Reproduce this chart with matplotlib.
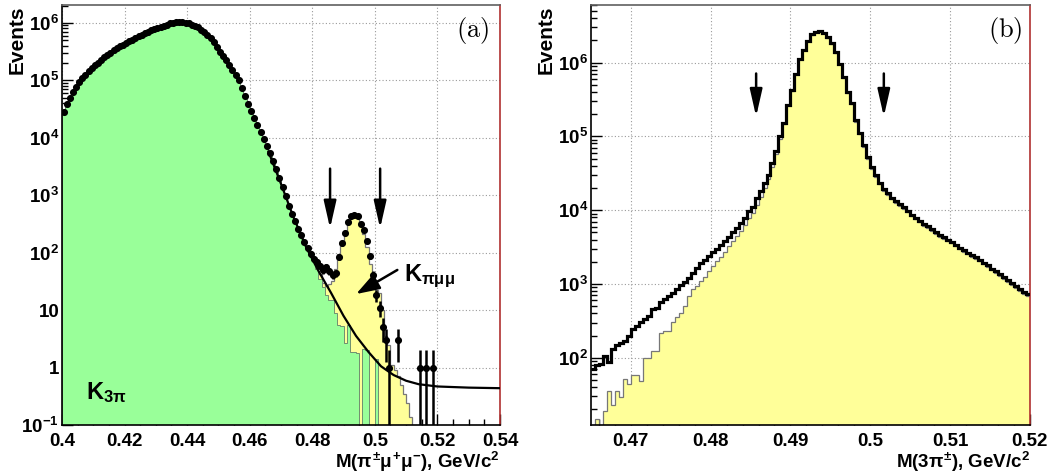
import numpy as np
import matplotlib
matplotlib.use("Agg")
import matplotlib.pyplot as plt
from matplotlib.ticker import FixedLocator, LogLocator, MultipleLocator, NullFormatter

plt.rcParams['font.family'] = ['Liberation Sans', 'DejaVu Sans']
plt.rcParams['font.weight'] = 'bold'
plt.rcParams['mathtext.fontset'] = 'custom'
plt.rcParams['mathtext.rm'] = 'Liberation Sans:bold'
plt.rcParams['mathtext.it'] = 'Liberation Sans:bold'
plt.rcParams['mathtext.bf'] = 'Liberation Sans:bold'
plt.rcParams['mathtext.sf'] = 'Liberation Sans:bold'

# ---------------- panel (a): M(pi mu mu), 1 MeV bins from 0.400 ----------------
a_edges = np.round(np.arange(0.400, 0.5405, 0.001), 4)

# data (events per bin), bins 0..118
a_data = [28200, 38000, 50100, 63100, 77600, 93300, 110000, 126000, 145000, 162000,
          182000, 204000, 229000, 251000, 275000, 302000, 331000, 363000, 389000, 417000,
          447000, 479000, 513000, 550000, 589000, 617000, 661000, 692000, 741000, 776000,
          813000, 851000, 891000, 933000, 977000, 1000000, 1020000, 1020000, 1020000, 1000000,
          977000, 933000, 891000, 832000, 759000, 692000, 617000, 537000, 457000, 380000,
          316000, 269000, 224000, 186000, 151000, 123000, 100000, 74100, 53700, 38900,
          28800, 21900, 16600, 12600, 9550, 7240, 5500, 3980, 2820, 2000,
          1380, 977, 661, 479, 355, 263, 200, 155, 120, 95,
          79, 69, 59, 50, 56, 48, 41, 44, 85, 145,
          219, 347, 427, 457, 427, 316, 245, 162, 87, 41,
          18, 11, 5, 3, 1, 0, 0, 3, 0, 0,
          0, 0, 0, 0, 1, 0, 1, 0, 1]

# K3pi simulation (green), bins 0..104
a_k3pi = a_data[:80] + [71, 52, 35, 25, 18, 15, 15, 9, 5.6, 5.2,
                        2.7, 5.6, 1.9, 1.9, 1.8, 0, 2.1, 2.0, 0, 0,
                        1.4, 0, 0, 0, 0]

# K3pi + Kpimumu simulation (yellow), bins 80..111
a_total_start = 80
a_total = [72, 60, 42, 30, 26, 28, 32, 52, 95, 151,
           240, 331, 398, 427, 398, 316, 209, 126, 63, 30,
           22, 19.5, 10, 3.5, 2.5, 1.1, 0.89, 0.71, 0.50, 0.35,
           0.24, 0.14]

# fit curve
fit_x = [0.466, 0.468, 0.470, 0.474, 0.478, 0.482, 0.486, 0.490, 0.494, 0.498,
         0.502, 0.506, 0.510, 0.514, 0.520, 0.530, 0.540]
fit_y = [5750, 3020, 1585, 417, 126, 47.9, 20.0, 7.94, 3.55, 1.86,
         1.05, 0.741, 0.589, 0.513, 0.468, 0.447, 0.437]

# ---------------- panel (b): M(3pi), 0.5 MeV bins from 0.465 ----------------
b_edges = np.round(np.linspace(0.465, 0.520, 111), 5)

b_data = [71, 81, 83, 107, 87, 132, 151, 158, 170, 200,
          245, 269, 302, 339, 363, 457, 479, 562, 617, 692,
          759, 851, 955, 1050, 1200, 1410, 1660, 1900, 2140, 2400,
          2690, 3020, 3390, 3800, 4370, 5010, 5750, 6760, 7940, 9770,
          11200, 14800, 18200, 23400, 30200, 43700, 63100, 100000, 151000, 269000,
          427000, 708000, 1120000, 1480000, 1950000, 2400000, 2630000, 2690000, 2510000, 2190000,
          1820000, 1380000, 955000, 631000, 398000, 282000, 166000, 112000, 75900, 52500,
          38000, 29500, 23400, 19100, 17000, 14800, 13200, 12000, 11000, 9770,
          8710, 7940, 7240, 6460, 6030, 5500, 5010, 4570, 4270, 3980,
          3720, 3390, 3090, 2880, 2630, 2450, 2290, 2140, 1950, 1780,
          1620, 1480, 1350, 1230, 1120, 1020, 933, 851, 776, 724]

b_mc = [10, 15, 11, 19, 35, 23, 35, 29, 52, 44,
        58, 58, 49, 98, 98, 123, 123, 219, 229, 229,
        302, 355, 407, 501, 692, 851, 933, 1100, 1260, 1480,
        1740, 2040, 2340, 2750, 3240, 3800, 4470, 5250, 6310, 7760,
        9120, 11700, 15100, 20000, 26300, 38000, 57500, 93300, 145000, 263000,
        417000, 692000, 1100000, 1460000, 1930000, 2370000, 2600000, 2660000, 2480000, 2160000,
        1800000, 1360000, 944000, 617000, 389000, 275000, 158000, 107000, 72400, 50100,
        36300, 28200, 22400, 18200, 16200, 14100, 12600, 11500, 10500, 9330,
        8320, 7590, 6920, 6170, 5750, 5250, 4790, 4370, 4070, 3800,
        3550, 3240, 2950, 2750, 2510, 2340, 2190, 2040, 1860, 1700,
        1550, 1410, 1290, 1170, 1070, 977, 891, 813, 741, 692]

cut_lo, cut_hi = 0.4857, 0.5017

GREEN = '#99ff99'
YELLOW = '#ffff99'
BASE = 1e-3

fig = plt.figure(figsize=(10.59, 4.75), dpi=100)
axa = fig.add_axes([0.0585, 0.1053, 0.4136, 0.884])
axb = fig.add_axes([0.558, 0.1053, 0.4145, 0.884])

ARROW = dict(arrowstyle='-|>,head_length=0.75,head_width=0.17', color='k',
             lw=1.8, mutation_scale=22, shrinkA=0, shrinkB=0)


def style(ax):
    ax.set_yscale('log')
    ax.set_axisbelow(True)
    ax.grid(True, which='major', color='#9a9a9a', linestyle=(0, (1, 2)), linewidth=0.8)
    ax.tick_params(which='both', direction='in', top=False, right=False,
                   labelsize=13.5)
    ax.tick_params(which='major', length=8, width=1)
    ax.tick_params(which='minor', length=4, width=1)
    ax.tick_params(axis='x', pad=6)
    ax.tick_params(axis='y', pad=2)
    for s in ['left', 'bottom', 'top']:
        ax.spines[s].set_linewidth(1.2)
    ax.spines['right'].set_color('#b03030')
    ax.spines['right'].set_linewidth(1.2)
    ax.spines['top'].set_color('#606060')


# ---- panel (a) ----
ax = axa
style(ax)
tot = np.full(len(a_edges) - 1, BASE)
tot[a_total_start:a_total_start + len(a_total)] = a_total
ax.stairs(tot, a_edges, baseline=BASE, fill=True, color=YELLOW, zorder=1)
ax.stairs(tot, a_edges, baseline=BASE, color='#777777', lw=0.9, zorder=1.1)
k3 = np.full(len(a_edges) - 1, BASE)
k3[:len(a_k3pi)] = np.where(np.array(a_k3pi) > 0, a_k3pi, BASE)
ax.stairs(k3, a_edges, baseline=BASE, fill=True, color=GREEN, zorder=1.5)
ax.stairs(k3, a_edges, baseline=BASE, color='#6f8f6f', lw=0.7, zorder=1.6)

ax.plot(fit_x, fit_y, color='k', lw=1.6, zorder=3)

n = np.array(a_data, dtype=float)
xc = (a_edges[:-1] + a_edges[1:])[:len(n)] / 2
m = n > 0
err = np.sqrt(n[m])
lo = np.minimum(err, n[m] * 0.9999)
ax.errorbar(xc[m], n[m], yerr=[lo, err], fmt='o', color='k', ms=4.1,
            elinewidth=1.8, capsize=0, zorder=4)

for xa in (cut_lo, cut_hi):
    ax.annotate('', xy=(xa, 265), xytext=(xa, 2900), arrowprops=ARROW, zorder=5)
ax.annotate('', xy=(0.4940, 19), xytext=(0.5072, 50),
            arrowprops=dict(ARROW, arrowstyle='-|>,head_length=0.65,head_width=0.22'),
            zorder=5)
ax.text(0.5092, 32, r'K$_{\pi\mu\mu}$', fontsize=17, va='baseline', ha='left')
ax.text(0.4078, 0.28, r'K$_{3\pi}$', fontsize=17, va='baseline', ha='left', zorder=6)
ax.text(0.938, 0.94, r'$\mathrm{(a)}$', transform=ax.transAxes, fontsize=19,
        ha='center', va='center', math_fontfamily='cm')

ax.set_xlim(0.40, 0.54)
ax.set_ylim(0.1, 2.04e6)
ax.xaxis.set_minor_locator(MultipleLocator(0.005))
ax.set_xticks([0.40, 0.42, 0.44, 0.46, 0.48, 0.50, 0.52, 0.54])
ax.set_xticklabels(['0.4', '0.42', '0.44', '0.46', '0.48', '0.5', '0.52', '0.54'])
ya = [0.1, 1, 10, 1e2, 1e3, 1e4, 1e5, 1e6]
ax.yaxis.set_major_locator(FixedLocator(ya))
ax.set_yticklabels([r'$10^{-1}$', '1', '10', r'$10^{2}$', r'$10^{3}$',
                    r'$10^{4}$', r'$10^{5}$', r'$10^{6}$'])
ax.yaxis.set_minor_locator(LogLocator(base=10, subs=np.arange(2, 10), numticks=20))
ax.yaxis.set_minor_formatter(NullFormatter())

# ---- panel (b) ----
ax = axb
style(ax)
ax.stairs(b_mc, b_edges, baseline=BASE, fill=True, color=YELLOW, zorder=1)
ax.stairs(b_mc, b_edges, baseline=None, color='#777777', lw=0.9, zorder=1.1)
ax.stairs(b_data, b_edges, baseline=None, color='k', lw=2.3, zorder=3)

for xa in (cut_lo, cut_hi):
    ax.annotate('', xy=(xa, 1.85e5), xytext=(xa, 7.1e5), arrowprops=ARROW, zorder=5)
ax.text(0.943, 0.94, r'$\mathrm{(b)}$', transform=ax.transAxes, fontsize=19,
        ha='center', va='center', math_fontfamily='cm')

ax.set_xlim(0.465, 0.52)
ax.set_ylim(12.3, 6.0e6)
ax.set_xticks([0.47, 0.48, 0.49, 0.50, 0.51, 0.52])
ax.set_xticklabels(['0.47', '0.48', '0.49', '0.5', '0.51', '0.52'])
ax.xaxis.set_minor_locator(MultipleLocator(0.002))
yb = [1e2, 1e3, 1e4, 1e5, 1e6]
ax.yaxis.set_major_locator(FixedLocator(yb))
ax.set_yticklabels([r'$10^{2}$', r'$10^{3}$', r'$10^{4}$', r'$10^{5}$', r'$10^{6}$'])
ax.yaxis.set_minor_locator(LogLocator(base=10, subs=np.arange(2, 10), numticks=20))
ax.yaxis.set_minor_formatter(NullFormatter())

# axis titles
fig.text(0.016, 0.989, 'Events', rotation=90, ha='center', va='top', fontsize=15)
fig.text(0.516, 0.989, 'Events', rotation=90, ha='center', va='top', fontsize=15)
fig.text(0.472, 0.002, r'M($\pi^{\pm}\mu^{+}\mu^{-}$), GeV/c$^{2}$', ha='right',
         va='bottom', fontsize=13.5)
fig.text(0.973, 0.002, r'M(3$\pi^{\pm}$), GeV/c$^{2}$', ha='right',
         va='bottom', fontsize=13.5)

fig.savefig('out.png', dpi=100)
